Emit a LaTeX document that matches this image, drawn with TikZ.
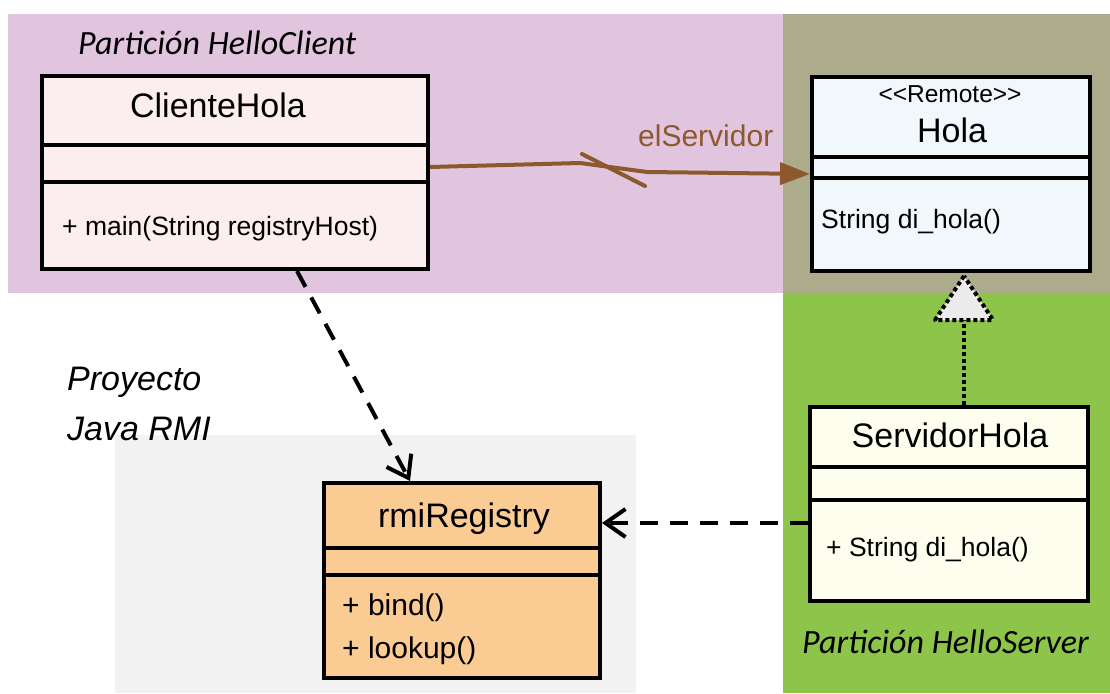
\documentclass[tikz,border=0pt]{standalone}
\usepackage{fontspec}
\setmainfont{Liberation Sans}
\newfontfamily\carl{Carlito}
\usetikzlibrary{arrows.meta}
\definecolor{pinkbg}{RGB}{225,197,222}
\definecolor{olivebg}{RGB}{172,172,140}
\definecolor{greenbg}{RGB}{141,196,74}
\definecolor{graybg}{RGB}{242,242,242}
\definecolor{clientfill}{RGB}{252,238,238}
\definecolor{holafill}{RGB}{240,248,251}
\definecolor{servfill}{RGB}{254,254,238}
\definecolor{rmifill}{RGB}{251,203,148}
\definecolor{brownline}{RGB}{140,88,45}
\definecolor{trifill}{RGB}{235,235,235}
\begin{document}
\begin{tikzpicture}[x=1pt,y=-1pt,
  classbox/.style={draw, line width=4pt, anchor=north west, inner sep=0pt},
  divider/.style={line width=4pt},
  bigtxt/.style={font=\fontsize{34}{40}\selectfont, inner sep=0pt, anchor=base},
  midtxt/.style={font=\fontsize{26.5}{32}\selectfont, inner sep=0pt, anchor=base west},
  regtxt/.style={font=\fontsize{30}{36}\selectfont, inner sep=0pt, anchor=base west},
  parttxt/.style={font=\carl\itshape\fontsize{34}{40}\selectfont, inner sep=0pt, anchor=base west},
  dashline/.style={line width=4pt, dash pattern=on 18pt off 12pt, -{Straight Barb[length=20pt,width=28pt,line width=4pt]}},
  dotline/.style={line width=4pt, dash pattern=on 4pt off 3pt},
  assoc/.style={draw=brownline, line width=4pt, line join=round}
]
\useasboundingbox (0,0) rectangle (1110,693);
% backgrounds
\fill[white] (0,0) rectangle (1110,693);
\fill[pinkbg] (8,14) rectangle (783,293);
\fill[olivebg] (783,14) rectangle (1110,293);
\fill[greenbg] (783,293) rectangle (1110,693);
\fill[graybg] (115,435) rectangle (636,693);

% region labels
\node[parttxt] (lclient) at (78,55) {Partición HelloClient};
\node[parttxt] (lserver) at (802,653) {Partición HelloServer};
\node[font=\itshape\fontsize{34}{40}\selectfont, inner sep=0pt, anchor=base west] (lproj1) at (67,390) {Proyecto};
\node[font=\itshape\fontsize{34}{40}\selectfont, inner sep=0pt, anchor=base west] (lproj2) at (67,440) {Java RMI};

% ClienteHola
\node[classbox, fill=clientfill, minimum width=386pt, minimum height=193pt] (cliente) at (40,74) {};
\draw[divider] (40,145) -- (426,145);
\draw[divider] (40,182) -- (426,182);
\node[bigtxt] (clienteName) at (218,117) {ClienteHola};
\node[midtxt] (clienteOp) at (62,235) {+ main(String registryHost)};

% Hola
\node[classbox, fill=holafill, minimum width=278pt, minimum height=194pt] (hola) at (810,75) {};
\draw[divider] (810,157) -- (1088,157);
\draw[divider] (810,178) -- (1088,178);
\node[font=\fontsize{24.5}{30}\selectfont, inner sep=0pt, anchor=base] (holaStereo) at (950,102) {<{}<Remote>{}>};
\node[bigtxt] (holaName) at (952,142) {Hola};
\node[midtxt] (holaOp) at (821,228) {String di\_hola()};

% ServidorHola
\node[classbox, fill=servfill, minimum width=278pt, minimum height=194pt] (serv) at (808,405) {};
\draw[divider] (808,467) -- (1086,467);
\draw[divider] (808,500) -- (1086,500);
\node[bigtxt] (servName) at (950,447) {ServidorHola};
\node[midtxt] (servOp) at (826,556) {+ String di\_hola()};

% rmiRegistry
\node[classbox, fill=rmifill, minimum width=276pt, minimum height=195pt] (rmi) at (322,481) {};
\draw[divider] (322,548) -- (598,548);
\draw[divider] (322,575) -- (598,575);
\node[bigtxt] (rmiName) at (464,527) {rmiRegistry};
\node[regtxt] (rmiOp1) at (342,615) {+ bind()};
\node[regtxt] (rmiOp2) at (342,658) {+ lookup()};

% association ClienteHola -> Hola
\draw[assoc, -{Triangle[length=30pt,width=22pt]}] ([yshift=5.5pt]cliente.east) -- (580,163) -- (647,172) -- (hola.west);
\draw[assoc, line cap=round] (582,154) -- (645,186);
\node[font=\fontsize{30}{36}\selectfont, text=brownline, inner sep=0pt, anchor=base west] (elServ) at (638,146) {elServidor};

% dependency ClienteHola -> rmiRegistry
\draw[dashline] ([xshift=62pt]cliente.south) -- ([xshift=-52pt]rmi.north);

% dependency ServidorHola -> rmiRegistry
\coordinate (sw) at ([yshift=-19pt]serv.west);
\draw[dashline] (sw) -- (sw -| rmi.east);

% realization ServidorHola -> Hola
\coordinate (tip) at ([xshift=13pt,yshift=-3pt]hola.south);
\draw[dotline] ([xshift=15pt]serv.north) -- ([yshift=-44pt]tip);
\draw[dotline, fill=trifill, line join=round] (tip) -- ++(-29,44) -- ++(58,0) -- cycle;
\end{tikzpicture}
\end{document}
